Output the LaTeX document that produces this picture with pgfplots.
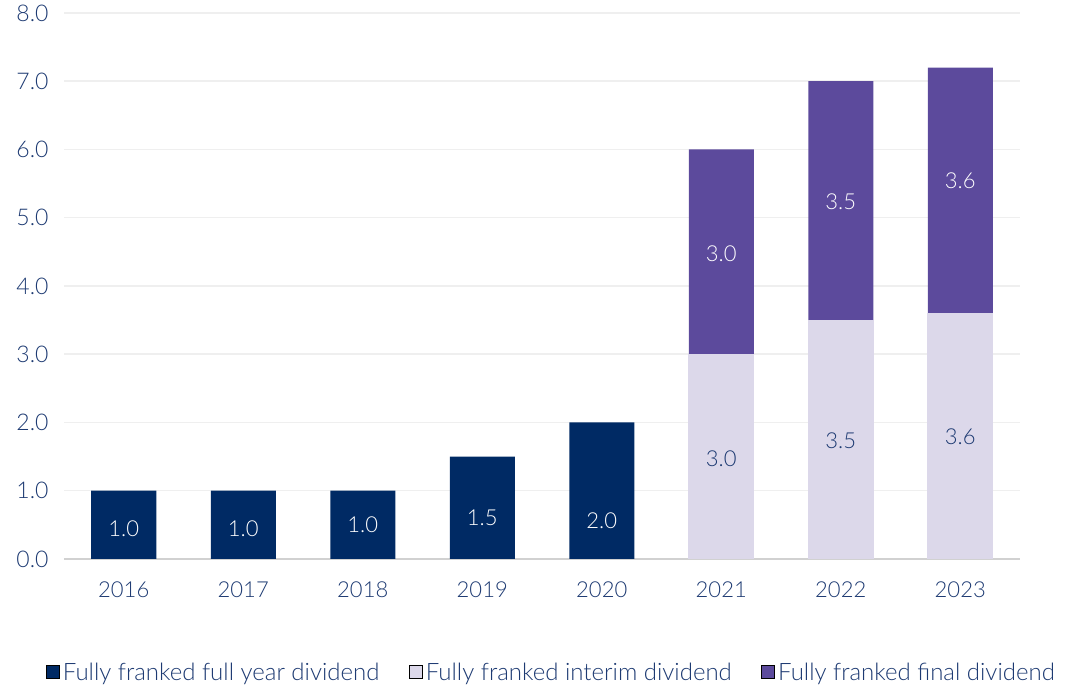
\documentclass[border=0pt]{standalone}
\usepackage{pgfplots}
\pgfplotsset{compat=1.18}
\usepackage{fontspec}
\setmainfont{Lato Light}
\definecolor{navy}{HTML}{002A64}
\definecolor{purp}{HTML}{5C4A9C}
\definecolor{lav}{HTML}{DCD8EA}
\definecolor{txt}{HTML}{1D3A72}
\definecolor{gridc}{HTML}{EFEFEF}
\begin{document}
\begin{tikzpicture}
\useasboundingbox (0,0) rectangle (1066pt,685pt);
\begin{axis}[
  at={(64pt,126pt)}, anchor=south west,
  scale only axis, width=956pt, height=546pt,
  xmin=-0.5, xmax=7.5, ymin=0, ymax=8,
  xtick={0,1,2,3,4,5,6,7},
  xticklabels={2016,2017,2018,2019,2020,2021,2022,2023},
  ytick={0,1,2,3,4,5,6,7,8},
  /pgf/number format/assume math mode=true,
  yticklabel style={/pgf/number format/fixed, /pgf/number format/fixed zerofill, /pgf/number format/precision=1, xshift=-12pt, font=\fontsize{23}{27}\selectfont},
  xticklabel style={yshift=-19pt, font=\fontsize{22}{26}\selectfont},
  tick label style={text=txt},
  major tick length=0pt,
  axis line style={draw=none},
  ymajorgrids, major grid style={draw=gridc, line width=1.5pt},
  extra y ticks={0}, extra y tick labels={},
  extra y tick style={major grid style={draw=black!18, line width=1.8pt}},
  legend columns=3,
  legend style={at={(axis description cs:-0.019,-0.207)}, anchor=west, draw=none, fill=none,
    font=\fontsize{24}{28}\selectfont, text=txt, inner sep=0pt,
    nodes={inner sep=3.5pt},
    /tikz/every even column/.append style={column sep=26pt}},
  legend image code/.code={\fill[#1] (0pt,-6.5pt) rectangle (13pt,6.5pt);},
]
\addplot[ybar, bar width=65pt, bar shift=0pt, fill=navy, draw=none, forget plot]
  coordinates {(0,1.0) (1,1.0) (2,1.0) (3,1.5) (4,2.0)};
\addplot[ybar, bar width=65pt, bar shift=0pt, fill=purp, draw=none, forget plot]
  coordinates {(5,6.0) (6,7.0) (7,7.2)};
\addplot[ybar, bar width=65pt, bar shift=0pt, fill=lav, draw=lav, line width=0.8pt, forget plot]
  coordinates {(5,3.0) (6,3.5) (7,3.6)};
% value labels
\addplot[only marks, mark=*, mark size=0pt, mark options={draw=none, fill=none}, forget plot,
  nodes near coords, point meta=explicit symbolic,
  nodes near coords style={anchor=center, text=white, font=\fontsize{22}{26}\selectfont}]
  coordinates {(0,0.44)[1.0] (1,0.44)[1.0] (2,0.5)[1.0] (3,0.6)[1.5] (4,0.56)[2.0]
               (5,4.48)[3.0] (6,5.23)[3.5] (7,5.54)[3.6]};
\addplot[only marks, mark=*, mark size=0pt, mark options={draw=none, fill=none}, forget plot,
  nodes near coords, point meta=explicit symbolic,
  nodes near coords style={anchor=center, text=txt, font=\fontsize{22}{26}\selectfont}]
  coordinates {(5,1.47)[3.0] (6,1.73)[3.5] (7,1.79)[3.6]};
\addlegendimage{fill=navy}
\addlegendentry{Fully franked full year dividend}
\addlegendimage{fill=lav}
\addlegendentry{Fully franked interim dividend}
\addlegendimage{fill=purp}
\addlegendentry{Fully franked final dividend}
\end{axis}
\end{tikzpicture}
\end{document}
